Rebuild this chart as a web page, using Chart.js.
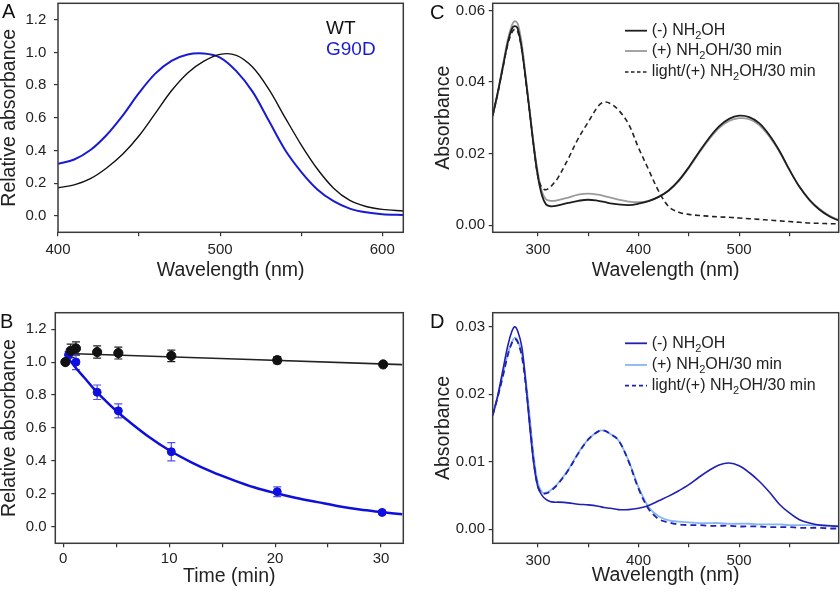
<!DOCTYPE html>
<html>
<head>
<meta charset="utf-8">
<script src="https://cdn.jsdelivr.net/npm/chart.js@4.4.1/dist/chart.umd.min.js"></script>
<style>
  body { margin: 0; background: #fff; }
  #fig { position: relative; width: 840px; height: 593px; overflow: hidden;
         font-family: "Liberation Sans", Arial, sans-serif; }
  #fig canvas { position: absolute; }
  .tag { position: absolute; font-size: 20px; line-height: 20px; color: #111; }
</style>
</head>
<body>
<div id="fig">
  <canvas id="chartA" width="420" height="290" style="left:0;top:0"></canvas>
  <canvas id="chartC" width="420" height="290" style="left:420px;top:0"></canvas>
  <canvas id="chartB" width="420" height="303" style="left:0;top:290px"></canvas>
  <canvas id="chartD" width="420" height="303" style="left:420px;top:290px"></canvas>
  <div class="tag" style="left:2px;top:1px">A</div>
  <div class="tag" style="left:430px;top:2px">C</div>
  <div class="tag" style="left:0px;top:311px">B</div>
  <div class="tag" style="left:430px;top:311px">D</div>
</div>
<script>
const FONT = '"Liberation Sans", Arial, sans-serif';
const INK = '#222';

// Panel A: normalised spectra
const wlA = [400, 410, 420, 430, 440, 450, 460, 470, 480, 490, 500, 510, 520, 530, 540, 550, 560, 570, 580, 590, 600, 613];
const relWT = [0.172, 0.19, 0.228, 0.293, 0.378, 0.49, 0.627, 0.765, 0.874, 0.946, 0.988, 0.982, 0.91, 0.775, 0.603, 0.435, 0.287, 0.17, 0.095, 0.058, 0.04, 0.03];
const relG90D = [0.319, 0.345, 0.403, 0.495, 0.615, 0.752, 0.87, 0.948, 0.987, 0.993, 0.968, 0.885, 0.76, 0.583, 0.405, 0.27, 0.162, 0.09, 0.045, 0.022, 0.011, 0.006];

// Panel B: decay with hydroxylamine
const timeWT = [0.2, 0.7, 1.2, 3.2, 5.2, 10.2, 20.2, 30.2];
const absWT = [1.0, 1.069, 1.083, 1.061, 1.055, 1.038, 1.012, 0.986];
const errWT = [0, 0.04, 0.04, 0.037, 0.036, 0.035, 0.022, 0.008];
const timeG90D = [0.2, 0.5, 1.2, 3.2, 5.2, 10.2, 20.2, 30.1];
const absG90D = [1.0, 1.044, 1.0, 0.817, 0.704, 0.456, 0.213, 0.0875];
const errG90D = [0, 0.02, 0.045, 0.044, 0.042, 0.055, 0.03, 0.008];
const fitTimeWT = [0.5, 32];
const fitWT = [1.052, 0.985];
const fitTimeG90D = [0.2, 1, 2, 3, 4, 5, 6, 8, 10, 12, 14, 16, 18, 20, 22, 24, 26, 28, 30, 32];
const fitG90D = [1.05, 0.98, 0.905, 0.83, 0.765, 0.705, 0.65, 0.55, 0.465, 0.395, 0.335, 0.285, 0.24, 0.205, 0.175, 0.15, 0.125, 0.105, 0.09, 0.076];

// Panels C and D share the wavelength grid
const wlUV = [255, 260, 265, 270, 274, 277, 280, 284, 288, 292, 296, 300, 304, 308, 312, 316, 320, 330, 340, 350, 360, 366, 372, 380, 390, 400, 410, 420, 430, 440, 450, 460, 470, 480, 490, 500, 510, 520, 530, 540, 550, 560, 570, 580, 590, 599];

// Panel C: WT
const wtDark = [0.0307, 0.037, 0.044, 0.051, 0.0548, 0.0556, 0.0548, 0.049, 0.0405, 0.031, 0.0215, 0.0135, 0.0083, 0.0058, 0.0053, 0.0053, 0.0055, 0.0062, 0.0068, 0.0071, 0.0068, 0.0065, 0.0061, 0.0058, 0.0056, 0.006, 0.0067, 0.0079, 0.0097, 0.0125, 0.0162, 0.0204, 0.0243, 0.0276, 0.0297, 0.0306, 0.0302, 0.0285, 0.0252, 0.0208, 0.0155, 0.0107, 0.007, 0.0043, 0.0024, 0.0013];
const wt30min = [0.0305, 0.037, 0.0445, 0.0518, 0.0558, 0.057, 0.0562, 0.0505, 0.041, 0.0315, 0.0222, 0.0145, 0.0093, 0.0072, 0.0068, 0.0068, 0.007, 0.0077, 0.0085, 0.0088, 0.0085, 0.0081, 0.0077, 0.0071, 0.0066, 0.0064, 0.0068, 0.0079, 0.0097, 0.0123, 0.016, 0.0201, 0.0239, 0.0271, 0.0291, 0.0299, 0.0296, 0.028, 0.0248, 0.0206, 0.0154, 0.0107, 0.0071, 0.0045, 0.0026, 0.0015];
const wtLight = [0.0305, 0.0368, 0.0438, 0.0505, 0.0538, 0.0548, 0.054, 0.049, 0.04, 0.031, 0.0215, 0.0135, 0.0104, 0.0099, 0.0106, 0.0118, 0.0133, 0.0185, 0.0242, 0.0288, 0.0333, 0.0344, 0.034, 0.0322, 0.0283, 0.0216, 0.0155, 0.0095, 0.0052, 0.0036, 0.003, 0.0027, 0.0025, 0.0023, 0.0022, 0.002, 0.0018, 0.0016, 0.0014, 0.0012, 0.001, 0.0008, 0.0006, 0.0005, 0.0004, 0.0004];

// Panel D: G90D
const mutDark = [0.0169, 0.0198, 0.0235, 0.0272, 0.0293, 0.03, 0.0293, 0.027, 0.0215, 0.015, 0.0095, 0.0062, 0.005, 0.0044, 0.0041, 0.004, 0.004, 0.0039, 0.0037, 0.0036, 0.0034, 0.0032, 0.0031, 0.0029, 0.0029, 0.0031, 0.0035, 0.0042, 0.0049, 0.0057, 0.0066, 0.0077, 0.0087, 0.0095, 0.0098, 0.0094, 0.0084, 0.0071, 0.0055, 0.0037, 0.0024, 0.0014, 0.0009, 0.0006, 0.0005, 0.0004];
const mut30min = [0.0169, 0.0196, 0.0228, 0.026, 0.0277, 0.0284, 0.0279, 0.026, 0.022, 0.0163, 0.0105, 0.0068, 0.0055, 0.0054, 0.0057, 0.0062, 0.0068, 0.0088, 0.0113, 0.0133, 0.0145, 0.0146, 0.0141, 0.0132, 0.0102, 0.0062, 0.0033, 0.0019, 0.0013, 0.0011, 0.001, 0.0009, 0.0009, 0.0009, 0.0008, 0.0008, 0.0008, 0.0007, 0.0007, 0.0007, 0.0006, 0.0006, 0.0006, 0.0006, 0.0005, 0.0005];
const mutLight = [0.0169, 0.0196, 0.0226, 0.0258, 0.0276, 0.0282, 0.0277, 0.0256, 0.0212, 0.0155, 0.0098, 0.0063, 0.0053, 0.0053, 0.0056, 0.0061, 0.0067, 0.0087, 0.0112, 0.0133, 0.0145, 0.0146, 0.0141, 0.0132, 0.0101, 0.006, 0.003, 0.0015, 0.001, 0.0007, 0.0006, 0.0006, 0.0005, 0.0005, 0.0005, 0.0004, 0.0004, 0.0004, 0.0003, 0.0003, 0.0003, 0.0002, 0.0002, 0.0002, 0.0001, 0.0001];

// tick positions and their labels ('' = unlabelled minor tick)
const wlTicksA = [400, 450, 500, 550, 600];
const wlLabelsA = ['400', '', '500', '', '600'];
const wlTicksUV = [300, 350, 400, 450, 500, 550];
const wlLabelsUV = ['300', '', '400', '', '500', ''];
const timeTicks = [0, 5, 10, 15, 20, 25, 30];
const timeLabels = ['0', '', '10', '', '20', '', '30'];
const relTicks = [0, 0.2, 0.4, 0.6, 0.8, 1.0, 1.2];
const relLabels = ['0.0', '0.2', '0.4', '0.6', '0.8', '1.0', '1.2'];
const absTicksC = [0, 0.02, 0.04, 0.06];
const absLabelsC = ['0.00', '0.02', '0.04', '0.06'];
const absTicksD = [0, 0.01, 0.02, 0.03];
const absLabelsD = ['0.00', '0.01', '0.02', '0.03'];

const BLUE = '#1a1ad2';
const NAVY = '#2020b4';
const SKY = '#86b6ee';
const GREY = '#9a9a9a';

function pts(xs, ys) {
  return xs.map((x, i) => ({ x, y: ys[i] }));
}

// box around the plot area
const framePlugin = {
  id: 'frame',
  afterDraw(chart) {
    const { ctx, chartArea: a } = chart;
    ctx.save();
    ctx.strokeStyle = '#3a3a3a';
    ctx.lineWidth = 1.5;
    ctx.strokeRect(a.left, a.top, a.right - a.left, a.bottom - a.top);
    ctx.restore();
  }
};

// vertical error bars with caps, read from dataset.errors
const errorBarPlugin = {
  id: 'errorBars',
  beforeDatasetsDraw(chart) {
    const { ctx, scales: { x, y } } = chart;
    chart.data.datasets.forEach(ds => {
      if (!ds.errors) return;
      ctx.save();
      ctx.strokeStyle = ds.errorColor;
      ctx.lineWidth = 1.2;
      ds.data.forEach((p, i) => {
        const e = ds.errors[i];
        if (!e) return;
        const px = x.getPixelForValue(p.x);
        const top = y.getPixelForValue(p.y + e);
        const bot = y.getPixelForValue(p.y - e);
        ctx.beginPath();
        ctx.moveTo(px, top); ctx.lineTo(px, bot);
        ctx.moveTo(px - 4, top); ctx.lineTo(px + 4, top);
        ctx.moveTo(px - 4, bot); ctx.lineTo(px + 4, bot);
        ctx.stroke();
      });
      ctx.restore();
    });
  }
};

// draws "NH_2OH" style labels with a subscript digit
function drawChem(ctx, text, x, y, size) {
  const parts = text.split('_');
  ctx.font = `${size}px ${FONT}`;
  ctx.fillText(parts[0], x, y);
  x += ctx.measureText(parts[0]).width;
  parts.slice(1).forEach(part => {
    const sub = part[0], rest = part.slice(1);
    ctx.font = `${Math.round(size * 0.68)}px ${FONT}`;
    ctx.fillText(sub, x, y + size * 0.33);
    x += ctx.measureText(sub).width;
    ctx.font = `${size}px ${FONT}`;
    ctx.fillText(rest, x, y);
    x += ctx.measureText(rest).width;
  });
}

const keyPlugin = {
  id: 'key',
  afterDraw(chart, args, opts) {
    if (!opts.items) return;
    const { ctx } = chart;
    ctx.save();
    ctx.textBaseline = 'middle';
    ctx.textAlign = 'left';
    opts.items.forEach((item, i) => {
      const y = opts.rows[i];
      if (opts.lineX) {
        ctx.strokeStyle = item.color;
        ctx.lineWidth = item.width || 1.8;
        ctx.setLineDash(item.dash || []);
        ctx.beginPath();
        ctx.moveTo(opts.lineX[0], y);
        ctx.lineTo(opts.lineX[1], y);
        ctx.stroke();
        ctx.setLineDash([]);
      }
      ctx.fillStyle = item.textColor || INK;
      drawChem(ctx, item.text, opts.textX, y, opts.size);
    });
    ctx.restore();
  }
};

function axes(c) {
  const tickFont = { family: FONT, size: 15 };
  const titleFont = { family: FONT, size: 19.5, lineHeight: 1 };
  return {
    x: {
      type: 'linear', min: c.xMin, max: c.xMax,
      afterBuildTicks: s => { s.ticks = c.xTicks.map(value => ({ value })); },
      afterFit: s => { s.height = c.xH; s.paddingLeft = 0; s.paddingRight = 0; },
      grid: { drawOnChartArea: false, drawTicks: true, tickLength: 4, color: '#333', lineWidth: 1.2 },
      border: { display: false },
      ticks: {
        autoSkip: false, maxRotation: 0, padding: c.xPad, color: INK, font: tickFont,
        callback: (v, i) => c.xLabels[i]
      },
      title: { display: true, text: c.xTitle, color: INK, font: titleFont, padding: { top: 0, bottom: c.xTitlePad } }
    },
    y: {
      type: 'linear', min: c.yMin, max: c.yMax,
      afterBuildTicks: s => { s.ticks = c.yTicks.map(value => ({ value })); },
      afterFit: s => { s.width = c.yW; s.paddingTop = 0; s.paddingBottom = 0; },
      grid: { drawOnChartArea: false, drawTicks: true, tickLength: 4, color: '#333', lineWidth: 1.2 },
      border: { display: false },
      ticks: {
        autoSkip: false, padding: c.yPad, color: INK, font: tickFont,
        callback: (v, i) => c.yLabels[i]
      },
      title: { display: true, text: c.yTitle, color: INK, font: titleFont, padding: { top: c.yTitlePad, bottom: 0 } }
    }
  };
}

function lineSet(label, xs, ys, color, width, dash) {
  return {
    label, data: pts(xs, ys), showLine: true, borderColor: color, borderWidth: width,
    borderDash: dash || [], pointRadius: 0, tension: 0.35, fill: false
  };
}

function makeChart(id, datasets, ax, pad, key) {
  return new Chart(document.getElementById(id), {
    type: 'scatter',
    data: { datasets },
    options: {
      responsive: false, animation: false, devicePixelRatio: 1, events: [],
      layout: { padding: pad },
      scales: axes(ax),
      plugins: { legend: { display: false }, tooltip: { enabled: false }, key: key }
    },
    plugins: [errorBarPlugin, framePlugin, keyPlugin]
  });
}

makeChart('chartA', [
  lineSet('WT', wlA, relWT, '#111', 1.4),
  lineSet('G90D', wlA, relG90D, BLUE, 2)
], {
  xMin: 400, xMax: 613, xTicks: wlTicksA, xLabels: wlLabelsA, xH: 57.7, xPad: 5, xTitle: 'Wavelength (nm)', xTitlePad: 9.5,
  yMin: -0.1, yMax: 1.3, yTicks: relTicks, yLabels: relLabels, yW: 58, yPad: 7.7, yTitle: 'Relative absorbance', yTitlePad: 0
}, { top: 3.3, right: 16.7, bottom: 0, left: 0 }, {
  textX: 326, rows: [29, 49.5], size: 19,
  items: [{ text: 'WT', textColor: '#111' }, { text: 'G90D', textColor: BLUE }]
});

makeChart('chartB', [
  { label: 'WT', data: pts(timeWT, absWT), errors: errWT, errorColor: '#222',
    pointRadius: 4.6, pointBackgroundColor: '#111', pointBorderColor: '#111', showLine: false },
  lineSet('WT fit', fitTimeWT, fitWT, '#222', 1.6),
  { label: 'G90D', data: pts(timeG90D, absG90D), errors: errG90D, errorColor: '#5252e6',
    pointRadius: 4, pointBackgroundColor: '#0f0fe0', pointBorderColor: '#0f0fe0', showLine: false },
  lineSet('G90D fit', fitTimeG90D, fitG90D, '#0f0fdc', 2.5)
], {
  xMin: -0.75, xMax: 32.1, xTicks: timeTicks, xLabels: timeLabels, xH: 49.7, xPad: 2.5, xTitle: 'Time (min)', xTitlePad: 7,
  yMin: -0.1, yMax: 1.3, yTicks: relTicks, yLabels: relLabels, yW: 55.3, yPad: 4.6, yTitle: 'Relative absorbance', yTitlePad: 0
}, { top: 22.7, right: 16.7, bottom: 0, left: 0 }, {});

makeChart('chartC', [
  lineSet('light/(+) NH2OH/30 min', wlUV, wtLight, '#222', 1.6, [5, 3.5]),
  lineSet('(-) NH2OH', wlUV, wtDark, '#1e1e1e', 1.8),
  lineSet('(+) NH2OH/30 min', wlUV, wt30min, GREY, 1.8)
], {
  xMin: 255, xMax: 599, xTicks: wlTicksUV, xLabels: wlLabelsUV, xH: 57.7, xPad: 5, xTitle: 'Wavelength (nm)', xTitlePad: 9.5,
  yMin: -0.002, yMax: 0.062, yTicks: absTicksC, yLabels: absLabelsC, yW: 72.7, yPad: 3.7, yTitle: 'Absorbance', yTitlePad: 14.2
}, { top: 3.3, right: 1.3, bottom: 0, left: 0 }, {
  lineX: [205, 227], textX: 231.7, rows: [30.7, 51, 72], size: 16,
  items: [
    { text: '(-) NH_2OH', color: '#1e1e1e' },
    { text: '(+) NH_2OH/30 min', color: GREY },
    { text: 'light/(+) NH_2OH/30 min', color: '#222', dash: [3.5, 2.5], width: 1.6 }
  ]
});

makeChart('chartD', [
  lineSet('light/(+) NH2OH/30 min', wlUV, mutLight, NAVY, 1.8, [6, 4]),
  lineSet('(-) NH2OH', wlUV, mutDark, NAVY, 1.6),
  lineSet('(+) NH2OH/30 min', wlUV, mut30min, SKY, 1.8)
], {
  xMin: 255, xMax: 599, xTicks: wlTicksUV, xLabels: wlLabelsUV, xH: 49.7, xPad: 5, xTitle: 'Wavelength (nm)', xTitlePad: 7.5,
  yMin: -0.0021, yMax: 0.0321, yTicks: absTicksD, yLabels: absLabelsD, yW: 72.7, yPad: 3.7, yTitle: 'Absorbance', yTitlePad: 14.2
}, { top: 22.7, right: 1.3, bottom: 0, left: 0 }, {
  lineX: [205, 227], textX: 231.7, rows: [53.3, 75, 95.7], size: 16,
  items: [
    { text: '(-) NH_2OH', color: NAVY },
    { text: '(+) NH_2OH/30 min', color: SKY },
    { text: 'light/(+) NH_2OH/30 min', color: NAVY, dash: [4, 3], width: 1.8 }
  ]
});
</script>
</body>
</html>
